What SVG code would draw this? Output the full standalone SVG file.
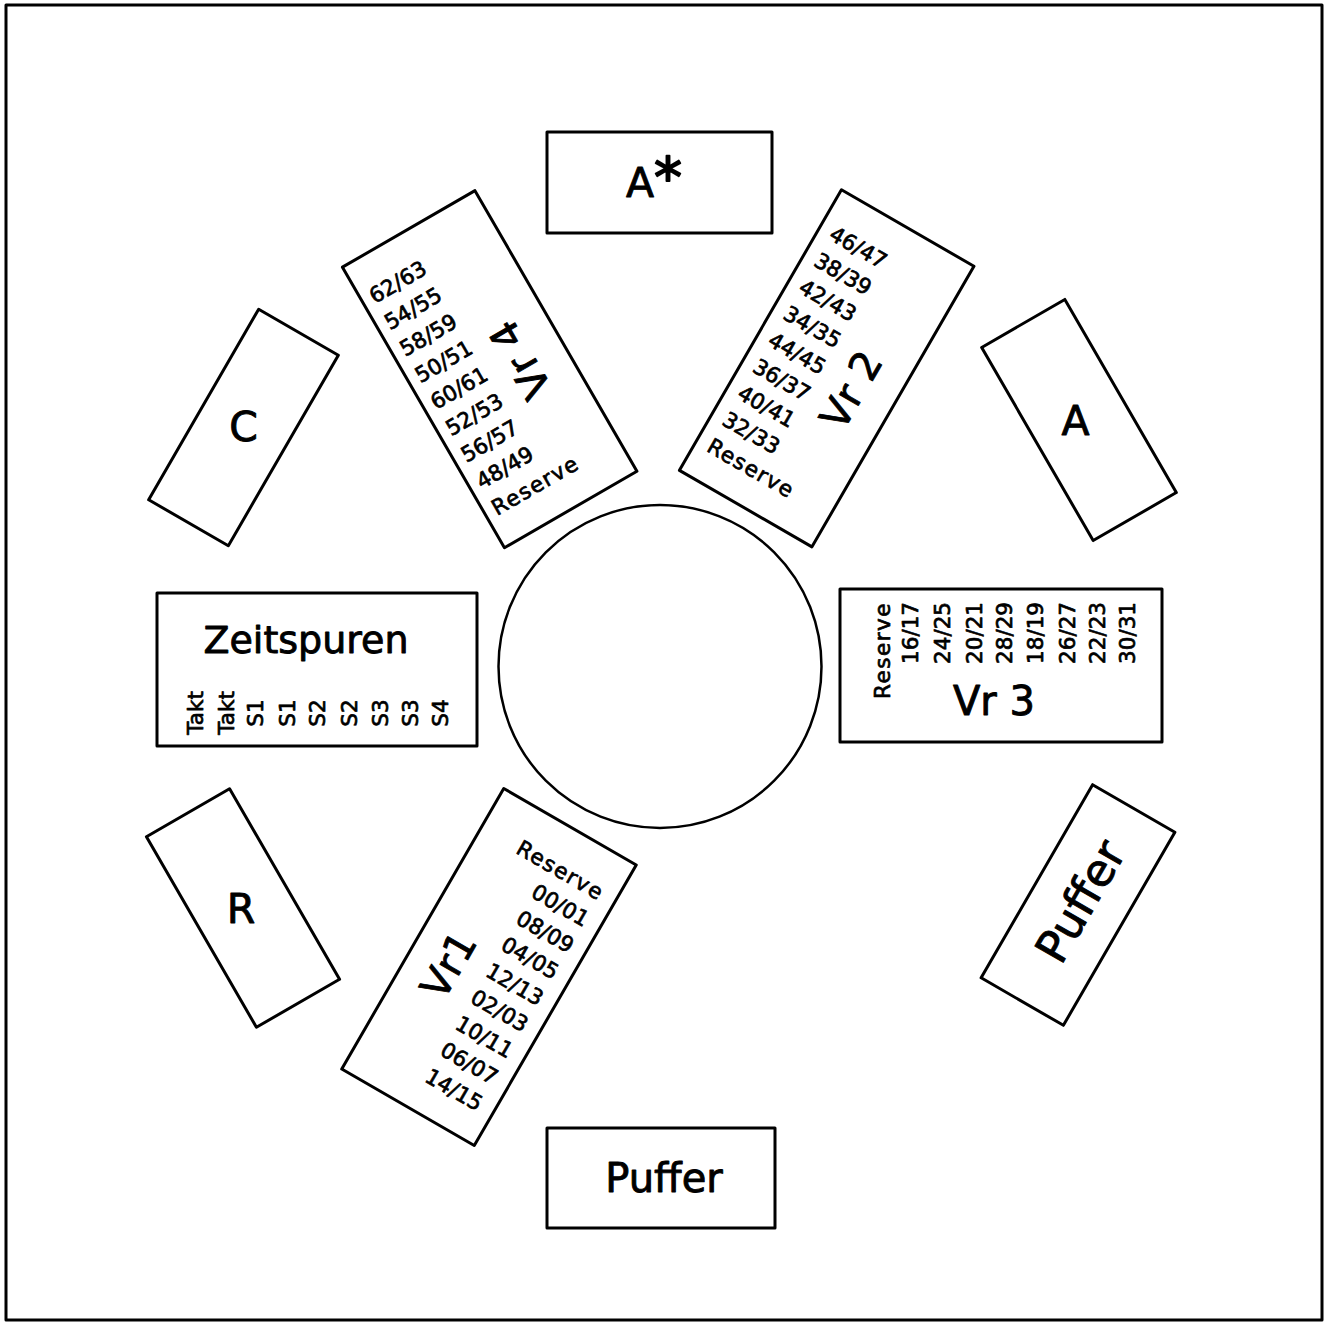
<svg xmlns="http://www.w3.org/2000/svg" width="1331" height="1325" viewBox="0 0 1331 1325">
<style>
.box{fill:none;stroke:#000;stroke-width:3;stroke-linejoin:round}
text{font-family:"DejaVu Sans","Liberation Sans",sans-serif;fill:#000;stroke:#000;stroke-width:0.9px;stroke-linejoin:round}
.big{font-size:41px}
.lbl{font-size:40px}
.sm{font-size:21.5px;stroke-width:0.7px}
.sm text{stroke-width:0.7px}
.rs{letter-spacing:1.5px}
</style>
<rect x="0" y="0" width="1331" height="1325" fill="#fff"/>
<rect id="frame" x="6" y="5" width="1316" height="1315" class="box"/>
<g id="connectors"></g>
<g id="hub"><circle cx="660" cy="666.5" r="161.5" fill="none" stroke="#000" stroke-width="2.5"/></g>

<g id="a-star">
<rect x="547" y="132" width="225" height="101" class="box"/>
<text x="626" y="197" class="big">A<tspan font-size="56px" stroke-width="1.8px">*</tspan></text>
</g>

<g id="puffer-bottom">
<rect x="547" y="1128" width="228" height="100" class="box"/>
<text x="664" y="1192" class="lbl" text-anchor="middle">Puffer</text>
</g>

<g id="c">
<rect x="-46" y="-110" width="92" height="220" class="box" transform="translate(243.5,427.5) rotate(30)"/>
<text x="243.5" y="441" class="big" text-anchor="middle">C</text>
</g>

<g id="a">
<rect x="-48" y="-111.5" width="96" height="223" class="box" transform="translate(1079,420) rotate(-30)"/>
<text x="1075.5" y="435" class="big" text-anchor="middle">A</text>
</g>

<g id="r">
<rect x="-48" y="-110" width="96" height="220" class="box" transform="translate(243,908) rotate(-30)"/>
<text x="241" y="923" class="big" text-anchor="middle">R</text>
</g>

<g id="puffer-right" transform="translate(1078,905) rotate(30)">
<rect x="-47.5" y="-111.5" width="95" height="223" class="box"/>
<text transform="translate(16,-4.5) rotate(-90)" text-anchor="middle" font-size="45px">Puffer</text>
</g>

<g id="zeitspuren">
<rect x="157" y="593" width="320" height="153" class="box"/>
<text x="306" y="653" font-size="38px" text-anchor="middle">Zeitspuren</text>
<g class="sm" text-anchor="middle">
<text transform="translate(203,713) rotate(-90)">Takt</text>
<text transform="translate(234,713) rotate(-90)">Takt</text>
<text transform="translate(263,713) rotate(-90)">S1</text>
<text transform="translate(295,713) rotate(-90)">S1</text>
<text transform="translate(325,713) rotate(-90)">S2</text>
<text transform="translate(357,713) rotate(-90)">S2</text>
<text transform="translate(388,713) rotate(-90)">S3</text>
<text transform="translate(418,713) rotate(-90)">S3</text>
<text transform="translate(448,713) rotate(-90)">S4</text>
</g>
</g>

<g id="vr3">
<rect x="840" y="589" width="322" height="153" class="box"/>
<g class="sm" text-anchor="end">
<text class="rs" transform="translate(890,602) rotate(-90)">Reserve</text>
<text transform="translate(918,602) rotate(-90)">16/17</text>
<text transform="translate(950,602) rotate(-90)">24/25</text>
<text transform="translate(982,602) rotate(-90)">20/21</text>
<text transform="translate(1012,602) rotate(-90)">28/29</text>
<text transform="translate(1043,602) rotate(-90)">18/19</text>
<text transform="translate(1075,602) rotate(-90)">26/27</text>
<text transform="translate(1105,602) rotate(-90)">22/23</text>
<text transform="translate(1135,602) rotate(-90)">30/31</text>
</g>
<text x="994" y="715" class="lbl" text-anchor="middle">Vr 3</text>
</g>

<g id="vr4" transform="translate(489.7,369.2) rotate(-30)">
<rect x="-76.5" y="-162" width="153" height="324" class="box"/>
<g class="sm">
<text x="-67" y="-114">62/63</text>
<text x="-67" y="-83.4">54/55</text>
<text x="-67" y="-52.8">58/59</text>
<text x="-67" y="-22.2">50/51</text>
<text x="-67" y="8.4">60/61</text>
<text x="-67" y="39">52/53</text>
<text x="-67" y="69.6">56/57</text>
<text x="-67" y="100.2">48/49</text>
<text x="-67" y="130.8" class="rs">Reserve</text>
</g>
<text transform="translate(45,7) rotate(-90)" class="lbl" text-anchor="middle">Vr 4</text>
</g>

<g id="vr2" transform="translate(826.7,368.3) rotate(30)">
<rect x="-76.5" y="-162" width="153" height="324" class="box"/>
<g class="sm">
<text x="-64" y="-113">46/47</text>
<text x="-64" y="-82.4">38/39</text>
<text x="-64" y="-51.8">42/43</text>
<text x="-64" y="-21.2">34/35</text>
<text x="-64" y="9.4">44/45</text>
<text x="-64" y="40">36/37</text>
<text x="-64" y="70.6">40/41</text>
<text x="-64" y="101.2">32/33</text>
<text x="-64" y="131.8" class="rs">Reserve</text>
</g>
<text transform="translate(46,6.6) rotate(-90)" class="lbl" text-anchor="middle">Vr 2</text>
</g>

<g id="vr1" transform="translate(489,967) rotate(30)">
<rect x="-76.5" y="-162" width="153" height="324" class="box"/>
<g class="sm" text-anchor="end">
<text x="62" y="-112" class="rs">Reserve</text>
<text x="62" y="-81.6">00/01</text>
<text x="62" y="-51.2">08/09</text>
<text x="62" y="-20.8">04/05</text>
<text x="62" y="9.6">12/13</text>
<text x="62" y="40">02/03</text>
<text x="62" y="70.4">10/11</text>
<text x="62" y="100.8">06/07</text>
<text x="62" y="131.2">14/15</text>
</g>
<text transform="translate(-22,18.6) rotate(-90)" class="lbl" text-anchor="middle">Vr1</text>
</g>
</svg>
